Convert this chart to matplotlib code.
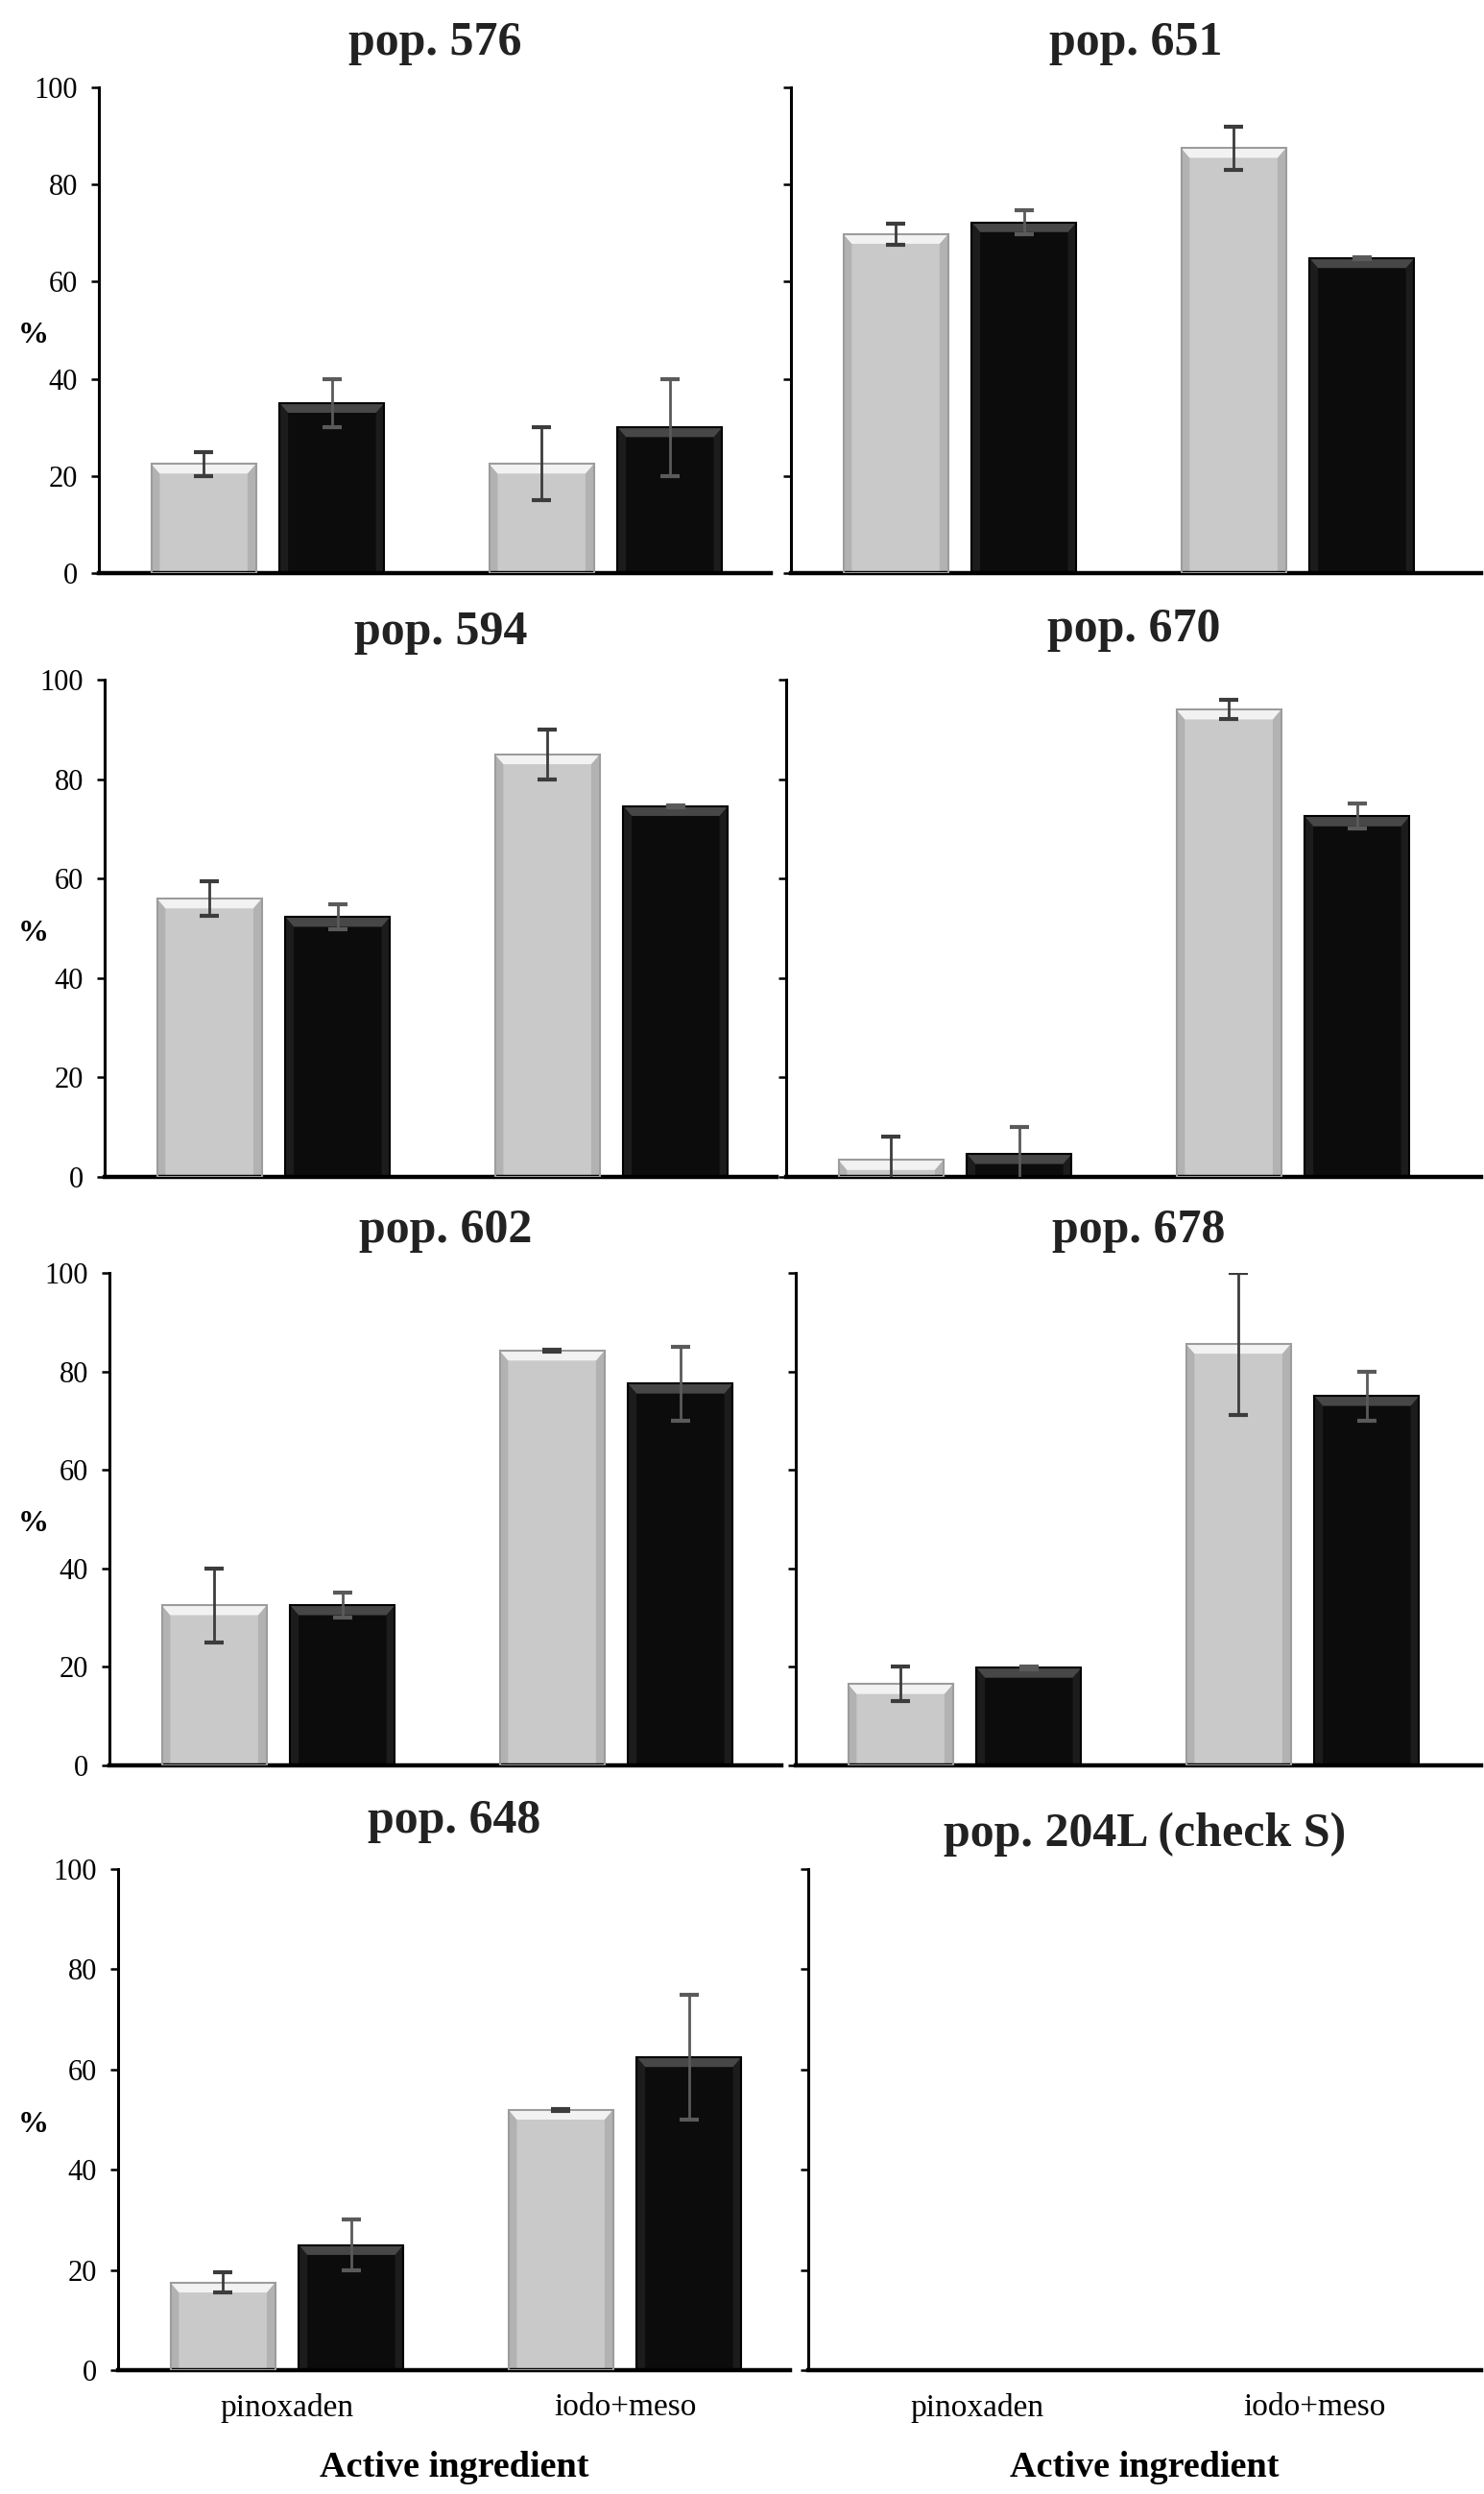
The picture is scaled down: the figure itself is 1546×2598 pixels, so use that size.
import numpy as np
import matplotlib.pyplot as plt
from matplotlib.patches import Polygon

plt.rcParams['font.family'] = ['Liberation Serif', 'DejaVu Serif']

# data (% values, mean and error)
ingredients = ['pinoxaden', 'iodo+meso']
populations = ['pop. 576', 'pop. 651', 'pop. 594', 'pop. 670',
               'pop. 602', 'pop. 678', 'pop. 648', 'pop. 204L (check S)']
grey_mean = [[22.5, 22.5], [69.8, 87.5], [56.0, 85.0], [3.4, 94.0],
             [32.5, 84.2], [16.5, 85.6], [17.5, 52.0], None]
grey_err = [[2.5, 7.5], [2.2, 4.4], [3.5, 5.0], [4.7, 2.0],
            [7.5, 0.2], [3.5, 14.4], [2.0, 0.2], None]
black_mean = [[35.0, 30.0], [72.2, 64.8], [52.3, 74.6], [4.6, 72.5],
              [32.5, 77.5], [19.8, 75.0], [25.0, 62.5], None]
black_err = [[5.0, 10.0], [2.5, 0.2], [2.5, 0.2], [5.5, 2.5],
             [2.5, 7.5], [0.3, 5.0], [5.0, 12.5], None]
yticks = [0, 20, 40, 60, 80, 100]

W, H = 1546, 2598
fig = plt.figure(figsize=(W / 100, H / 100), dpi=100)

# panel geometry in pixels
rows = [(91, 597), (708, 1226), (1326, 1839), (1947, 2469)]
left_spine = [103, 109, 114, 123]
right_spine = [824, 819, 829, 842]
right_end = 1543
px_per_unit = 352
title_y = [(45, 45), (659, 656), (1282, 1282), (1897, 1911)]

bw = 0.31
off = 0.19
x = np.arange(len(ingredients))


def bevel(ax, bars, top_col, side_col):
    dx, dy = 0.025, 2.0
    for b in bars:
        x0, w, h = b.get_x(), b.get_width(), b.get_height()
        x1 = x0 + w
        e = min(dy, h)
        ax.add_patch(Polygon([(x0, h), (x1, h), (x1 - dx, h - e), (x0 + dx, h - e)],
                             closed=True, fc=top_col, ec='none', zorder=2.5))
        ax.add_patch(Polygon([(x0, 0), (x0, h), (x0 + dx, h - e), (x0 + dx, 0)],
                             closed=True, fc=side_col, ec='none', zorder=2.4))
        ax.add_patch(Polygon([(x1, 0), (x1, h), (x1 - dx, h - e), (x1 - dx, 0)],
                             closed=True, fc=side_col, ec='none', zorder=2.4))


for i, name in enumerate(populations):
    r, c = divmod(i, 2)
    ytop, ybot = rows[r]
    if c == 0:
        xl = left_spine[r]
        xr = xl + 1.99 * px_per_unit
    else:
        xl = right_spine[r]
        xr = right_end
    ax = fig.add_axes([xl / W, 1 - ybot / H, (xr - xl) / W, (ybot - ytop) / H])
    ax.set_xlim(-0.5, -0.5 + (xr - xl) / px_per_unit)
    ax.set_ylim(0, 100)

    if grey_mean[i] is not None:
        g = ax.bar(x - off, grey_mean[i], bw, color='#c9c9c9', zorder=2)
        k = ax.bar(x + off, black_mean[i], bw, color='#0c0c0c', zorder=2)
        bevel(ax, g, '#f2f2f2', '#b2b2b2')
        bevel(ax, k, '#474747', '#1c1c1c')
        ax.bar(x - off, grey_mean[i], bw, fill=False, edgecolor='#9c9c9c', lw=1.5, zorder=3)
        ax.bar(x + off, black_mean[i], bw, fill=False, edgecolor='#000000', lw=1.5, zorder=3)
        ax.errorbar(x - off, grey_mean[i], yerr=grey_err[i], fmt='none', ecolor='#3c3c3c',
                    elinewidth=2, capsize=7, capthick=3, zorder=4)
        ax.errorbar(x + off, black_mean[i], yerr=black_err[i], fmt='none', ecolor='#5a5a5a',
                    elinewidth=2, capsize=7, capthick=3, zorder=4)

    for s in ['top', 'right']:
        ax.spines[s].set_visible(False)
    ax.spines['left'].set_linewidth(2.2)
    ax.spines['bottom'].set_linewidth(3.2)

    ax.set_yticks(yticks)
    ax.tick_params(axis='y', direction='out', length=6, width=1.8, labelsize=22, pad=10)
    if c == 1:
        ax.tick_params(axis='y', labelleft=False)
    ax.set_xticks(x)
    ax.set_xticklabels(ingredients)
    ax.tick_params(axis='x', length=0, labelsize=24, pad=17)
    if r < 3:
        ax.tick_params(axis='x', labelbottom=False)

    xc = (xl + xr) / 2
    fig.text(xc / W, 1 - title_y[r][c] / H, name, ha='center', va='center',
             fontsize=36, fontweight='bold', color='#222222')
    if c == 0:
        fig.text(35 / W, 1 - (ybot - 0.49 * (ybot - ytop)) / H, '%', ha='center',
                 va='center', fontsize=23, fontweight='bold')
    if r == 3:
        fig.text(xc / W, 1 - 2570 / H, 'Active ingredient', ha='center', va='center',
                 fontsize=27.5, fontweight='bold')

fig.savefig('out.png', dpi=100)
